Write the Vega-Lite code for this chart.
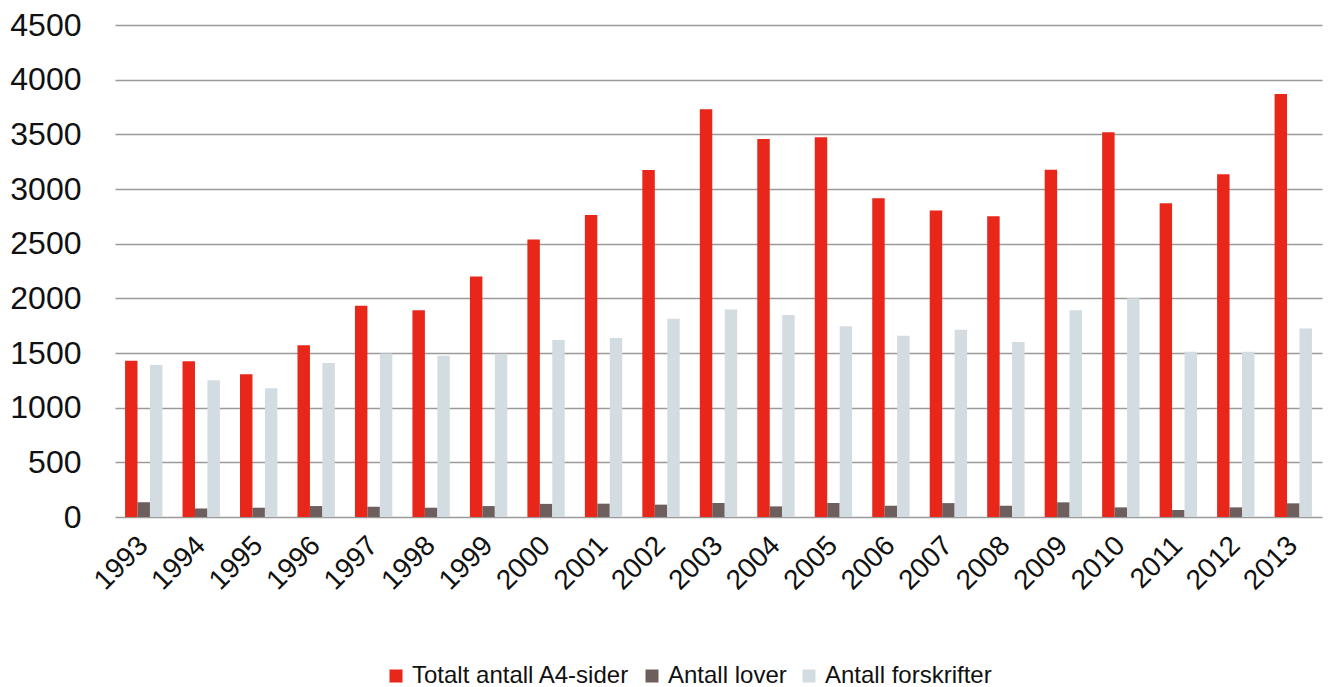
{
  "$schema": "https://vega.github.io/schema/vega-lite/v6.json",
  "width": 1207,
  "height": 492,
  "autosize": {"type": "none"},
  "padding": {"left": 115, "top": 25, "right": 6, "bottom": 170},
  "background": "white",
  "config": {
    "font": "Liberation Sans",
    "view": {"stroke": null},
    "axis": {"labelFont": "Liberation Sans", "labelFontWeight": "normal"}
  },
  "data": {
    "values": [
      {"year": "1993", "series": "Totalt antall A4-sider", "value": 1430},
      {"year": "1993", "series": "Antall lover", "value": 135},
      {"year": "1993", "series": "Antall forskrifter", "value": 1390},
      {"year": "1994", "series": "Totalt antall A4-sider", "value": 1425},
      {"year": "1994", "series": "Antall lover", "value": 78},
      {"year": "1994", "series": "Antall forskrifter", "value": 1250},
      {"year": "1995", "series": "Totalt antall A4-sider", "value": 1305},
      {"year": "1995", "series": "Antall lover", "value": 85},
      {"year": "1995", "series": "Antall forskrifter", "value": 1178},
      {"year": "1996", "series": "Totalt antall A4-sider", "value": 1570},
      {"year": "1996", "series": "Antall lover", "value": 100},
      {"year": "1996", "series": "Antall forskrifter", "value": 1408},
      {"year": "1997", "series": "Totalt antall A4-sider", "value": 1932},
      {"year": "1997", "series": "Antall lover", "value": 94},
      {"year": "1997", "series": "Antall forskrifter", "value": 1495},
      {"year": "1998", "series": "Totalt antall A4-sider", "value": 1890},
      {"year": "1998", "series": "Antall lover", "value": 85},
      {"year": "1998", "series": "Antall forskrifter", "value": 1475},
      {"year": "1999", "series": "Totalt antall A4-sider", "value": 2200},
      {"year": "1999", "series": "Antall lover", "value": 100},
      {"year": "1999", "series": "Antall forskrifter", "value": 1494},
      {"year": "2000", "series": "Totalt antall A4-sider", "value": 2537},
      {"year": "2000", "series": "Antall lover", "value": 120},
      {"year": "2000", "series": "Antall forskrifter", "value": 1618},
      {"year": "2001", "series": "Totalt antall A4-sider", "value": 2763},
      {"year": "2001", "series": "Antall lover", "value": 122},
      {"year": "2001", "series": "Antall forskrifter", "value": 1637},
      {"year": "2002", "series": "Totalt antall A4-sider", "value": 3174},
      {"year": "2002", "series": "Antall lover", "value": 113},
      {"year": "2002", "series": "Antall forskrifter", "value": 1814},
      {"year": "2003", "series": "Totalt antall A4-sider", "value": 3730},
      {"year": "2003", "series": "Antall lover", "value": 128},
      {"year": "2003", "series": "Antall forskrifter", "value": 1897},
      {"year": "2004", "series": "Totalt antall A4-sider", "value": 3457},
      {"year": "2004", "series": "Antall lover", "value": 97},
      {"year": "2004", "series": "Antall forskrifter", "value": 1848},
      {"year": "2005", "series": "Totalt antall A4-sider", "value": 3473},
      {"year": "2005", "series": "Antall lover", "value": 128},
      {"year": "2005", "series": "Antall forskrifter", "value": 1744},
      {"year": "2006", "series": "Totalt antall A4-sider", "value": 2915},
      {"year": "2006", "series": "Antall lover", "value": 103},
      {"year": "2006", "series": "Antall forskrifter", "value": 1658},
      {"year": "2007", "series": "Totalt antall A4-sider", "value": 2803},
      {"year": "2007", "series": "Antall lover", "value": 127},
      {"year": "2007", "series": "Antall forskrifter", "value": 1713},
      {"year": "2008", "series": "Totalt antall A4-sider", "value": 2750},
      {"year": "2008", "series": "Antall lover", "value": 103},
      {"year": "2008", "series": "Antall forskrifter", "value": 1600},
      {"year": "2009", "series": "Totalt antall A4-sider", "value": 3177},
      {"year": "2009", "series": "Antall lover", "value": 134},
      {"year": "2009", "series": "Antall forskrifter", "value": 1890},
      {"year": "2010", "series": "Totalt antall A4-sider", "value": 3518},
      {"year": "2010", "series": "Antall lover", "value": 88},
      {"year": "2010", "series": "Antall forskrifter", "value": 2000},
      {"year": "2011", "series": "Totalt antall A4-sider", "value": 2869},
      {"year": "2011", "series": "Antall lover", "value": 64},
      {"year": "2011", "series": "Antall forskrifter", "value": 1512},
      {"year": "2012", "series": "Totalt antall A4-sider", "value": 3134},
      {"year": "2012", "series": "Antall lover", "value": 88},
      {"year": "2012", "series": "Antall forskrifter", "value": 1512},
      {"year": "2013", "series": "Totalt antall A4-sider", "value": 3869},
      {"year": "2013", "series": "Antall lover", "value": 125},
      {"year": "2013", "series": "Antall forskrifter", "value": 1725}
    ]
  },
  "mark": {"type": "bar"},
  "encoding": {
    "x": {
      "field": "year",
      "type": "nominal",
      "title": null,
      "scale": {"paddingInner": 0.35, "paddingOuter": 0.175},
      "axis": {
        "labelAngle": -45,
        "labelAlign": "right",
        "labelBaseline": "middle",
        "labelFontSize": 28,
        "labelColor": "#111111",
        "labelPadding": 24,
        "labelDx": -3,
        "labelDy": -8,
        "ticks": false,
        "domain": false,
        "grid": false
      }
    },
    "xOffset": {
      "field": "series",
      "type": "nominal",
      "sort": ["Totalt antall A4-sider", "Antall lover", "Antall forskrifter"],
      "scale": {"paddingInner": 0, "paddingOuter": 0}
    },
    "y": {
      "field": "value",
      "type": "quantitative",
      "title": null,
      "scale": {"domain": [0, 4500], "nice": false},
      "axis": {
        "values": [0, 500, 1000, 1500, 2000, 2500, 3000, 3500, 4000, 4500],
        "format": "d",
        "labelFontSize": 32,
        "labelColor": "#111111",
        "labelPadding": 34,
        "ticks": false,
        "domain": false,
        "grid": true,
        "gridColor": "#9a9a9a",
        "gridWidth": 1.5
      }
    },
    "color": {
      "field": "series",
      "type": "nominal",
      "sort": ["Totalt antall A4-sider", "Antall lover", "Antall forskrifter"],
      "scale": {
        "domain": ["Totalt antall A4-sider", "Antall lover", "Antall forskrifter"],
        "range": ["#E8261A", "#6C5F5D", "#D3DCE1"]
      },
      "legend": {
        "title": null,
        "orient": "none",
        "direction": "horizontal",
        "legendX": 269,
        "legendY": 639,
        "symbolType": "square",
        "symbolSize": 169,
        "symbolStrokeWidth": 0,
        "labelFontSize": 24,
        "labelFont": "Liberation Sans",
        "labelColor": "#111111",
        "labelOffset": 4,
        "columnPadding": 10,
        "labelLimit": 400
      }
    }
  }
}
